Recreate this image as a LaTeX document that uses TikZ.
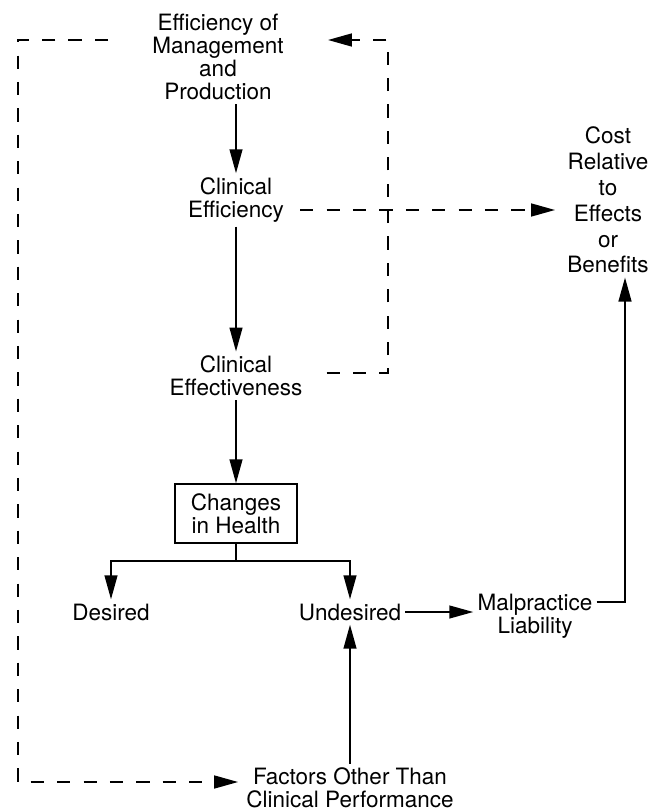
\documentclass[tikz,border=0pt]{standalone}
\usepackage{fontspec}
\setmainfont{TeX Gyre Heros}
\usetikzlibrary{arrows.meta}
\tikzset{
    % Long slim filled heads, as in the printed figure
    >={Triangle[length=6mm,width=3.2mm]},
%
    % Plain text labels, no frame
    label text/.style={align=center, inner sep=1mm,
        font=\fontsize{16}{16.5}\selectfont},
%
    % The one framed box
    framed box/.style={label text, draw, line width=1.1pt,
        minimum width=30.5mm, minimum height=14.75mm},
%
    % Solid and dashed connectors
    flow/.style={line width=1.3pt},
    feedback/.style={line width=1.5pt, dash pattern=on 3.3mm off 3.3mm}}

\begin{document}
\begin{tikzpicture}

% Overall page area
\useasboundingbox (0,0) rectangle (164mm,-203mm);

% Main column
\node [label text] (mgmt) at (54.5mm,-14.2mm)
    {Efficiency of\\Management\\and\\Production};
\node [label text] (ceff) at (59mm,-50mm) {Clinical\\Efficiency};
\node [label text] (cefv) at (59mm,-94mm) {Clinical\\Effectiveness};
\node [framed box] (health) at (59mm,-128.4mm) {Changes\\in Health};

% Outcomes
\node [label text] (desired) at (27.75mm,-153mm) {Desired};
\node [label text] (undesired) at (87.5mm,-153mm) {Undesired};
\node [label text] (malpr) at (133.75mm,-154mm) {Malpractice\\Liability};
\node [label text, font=\fontsize{16}{18.4}\selectfont] (cost) at (152mm,-50mm)
    {Cost\\Relative\\to\\Effects\\or\\Benefits};
\node [label text] (factors) at (87.5mm,-197mm)
    {Factors Other Than\\Clinical Performance};

% Corner points of the loops
\coordinate (split) at (59mm,-140.25mm);
\coordinate (tl) at (4.5mm,-10mm);
\coordinate (bl) at (4.5mm,-195.5mm);
\coordinate (tr) at (97mm,-10mm);
\coordinate (br) at (97mm,-93.25mm);
\coordinate (ey) at (0,-52.5mm);
\coordinate (mcorner) at (156.25mm,-150.5mm);

% Solid flow
\draw [flow, ->] (ceff.north |- mgmt.south) -- (ceff.north);
\draw [flow, ->] (ceff.south) -- (cefv.north);
\draw [flow, ->] (cefv.south) -- (health.north);
\draw [flow] (health.south) -- (split);
\draw [flow, ->] (split) -| (desired.north);
\draw [flow, ->] (split) -| (undesired.north);
\draw [flow, ->] (undesired.east) -- (undesired.east -| malpr.west);
\draw [flow, ->] (factors.north) -- (undesired.south);
\draw [flow, ->] (malpr.east |- mcorner) -- (mcorner) -- (mcorner |- cost.south);

% Dashed feedback
\draw [feedback, ->] ([xshift=-10mm]mgmt.west |- tl) -- (tl) -- (bl)
    -- ([xshift=-1mm]factors.west |- bl);
\draw [feedback, ->] ([xshift=5mm]cefv.east |- br) -- (br) -- (tr)
    -- ([xshift=10mm]mgmt.east |- tr);
\draw [feedback, ->] ([xshift=3mm]ceff.east |- ey)
    -- ([xshift=-2mm]cost.west |- ey);

\end{tikzpicture}
\end{document}
